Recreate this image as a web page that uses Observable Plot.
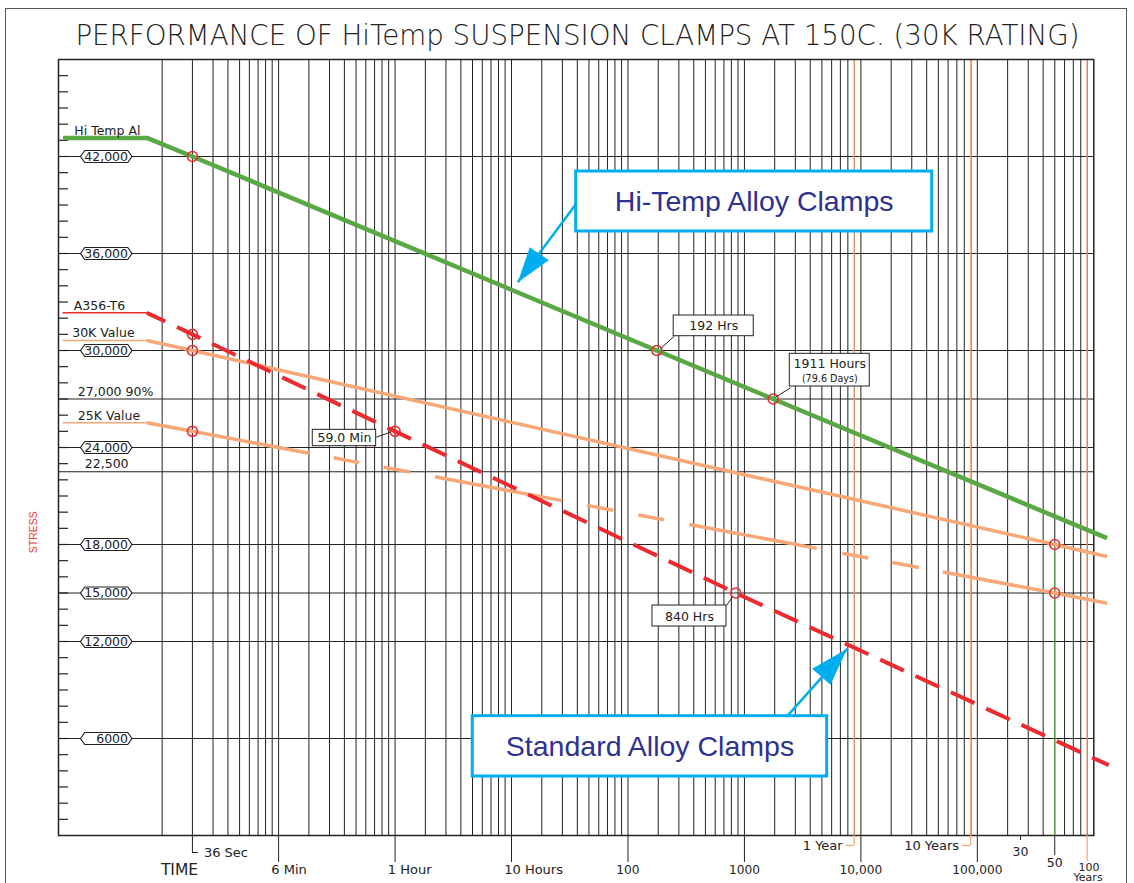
<!DOCTYPE html>
<html><head><meta charset="utf-8">
<script src="https://cdn.jsdelivr.net/npm/d3@7"></script>
<script src="https://cdn.jsdelivr.net/npm/@observablehq/plot@0.6"></script>
<style>
body{margin:0;background:#fff;}
#wrap{position:relative;width:1134px;height:883px;overflow:hidden;}
#border{position:absolute;left:5px;top:8px;width:1122px;height:900px;border:1.5px solid #555;pointer-events:none;box-sizing:border-box;}
svg text{white-space:pre;}
</style></head><body><div id="wrap"><div id="border"></div></div>
<script>
// ---------- data ----------
const titleText = "PERFORMANCE OF HiTemp SUSPENSION CLAMPS AT 150C. (30K RATING)";
const decades = [0.01, 0.1, 1, 10, 100, 1000, 10000, 100000];
const gridMultipliers = [1, 1.82, 2.735, 3.673, 4.624, 5.61, 6.668, 7.727, 8.81];
const majorStress = [42000, 36000, 30000, 27000, 24000, 22500, 18000, 15000, 12000, 6000];
const boxedStress = [42000, 36000, 30000, 24000, 18000, 15000, 12000, 6000];
const boxedLabels = ["42,000", "36,000", "30,000", "24,000", "18,000", "15,000", "12,000", "6000"];
const plainStress = [27000, 22500];
const plainLabels = ["27,000 90%", "22,500"];
const minorStress = d3.range(1000, 48000, 1000);
const minorTickHours = [0.00129, 0.00157];

const decadeTickHours = [0.1, 1, 10, 100, 1000, 10000, 100000];
const decadeTickLabels = ["6 Min", "1 Hour", "10 Hours", "100", "1000", "10,000", "100,000"];
const secTickHours = 0.0182;
const secLeaderHours = [0.0182, 0.0205];
const yearHours = [8760, 87600, 876000];
const yearLabels = ["1 Year", "10 Years"];
const yearLeaderStartHours = [7480, 74800];
const thirtyYearHours = 235000;
const fiftyYearHours = 462000;

const labelLineHours = [0.00141, 0.0074];
const seriesLabels = ["Hi Temp Al", "A356-T6", "30K Value", "25K Value"];
const seriesLabelStress = [43150, 32330, 30620, 25527];

const hiTempHours = [0.00141, 0.0074, 0.0182, 177, 1766, 1.3e6];
const hiTempStress = [43150, 43150, 42000, 30000, 27000, 18390];
const a356Hours = [0.0074, 0.0182, 1, 843, 1.345e6];
const a356Stress = [32330, 31000, 25000, 15000, 4350];
const k30Hours = [0.0074, 0.0182, 462000, 1.3e6];
const k30Stress = [30620, 30000, 18000, 17257];
const k25Hours = [0.0074, 0.0182, 462000, 1.3e6];
const k25Stress = [25527, 25000, 15000, 14370];

const circleHours = [0.0182, 0.0182, 0.0182, 0.0182, 1, 177, 1766, 843, 462000, 462000];
const circleStress = [42000, 31000, 30000, 25000, 25000, 30000, 27000, 15000, 18000, 15000];

const noteTexts = ["192 Hrs", "1911 Hours", "59.0 Min", "840 Hrs"];
const noteX1 = [247, 2452, 0.1965, 162.3];
const noteX2 = [1202, 11920, 0.688, 701.5];
const noteY1 = [30884, 27772, 24080, 12927];
const noteY2 = [32164, 29795, 25094, 14226];
const noteTextHours = [545.6, 5408, 0.3677, 337.3];
const noteTextStress = [31527, 29177, 24587, 13546];
const noteSubText = ["(79.6 Days)"];
const noteSubHours = [5408];
const noteSubStress = [28249];
const leaderFromHours = [190, 1849, 0.913, 789];
const leaderFromStress = [30104, 27111, 24946, 14752];
const leaderToHours = [250.7, 2486, 0.688, 701.5];
const leaderToStress = [30896, 27692, 24637, 14226];

const calloutTexts = ["Hi-Temp Alloy Clamps", "Standard Alloy Clamps"];
const calloutX1 = [35.92, 4.648];
const calloutX2 = [40960, 5135];
const calloutY1 = [37360, 3649];
const calloutY2 = [41071, 7379];
const calloutTextHours = [1213, 154.5];
const calloutTextStress = [39215, 5505];
const arrowFromHours = [35.92, 2329];
const arrowFromStress = [39073, 7379];
const arrowTipHours = [11.32, 7627];
const arrowTipStress = [34224, 11548];

// ---------- styles ----------
const ink = "#222", green = "#59a845", red = "#ec2b31", orange = "#f6a878",
      cyan = "#00aeef", navy = "#2e3192";
const font = "DejaVu Sans, sans-serif";

const pts = (hs, ss) => hs.map((h, i) => ({h, s: ss[i]}));
const gridHours = decades.flatMap(d => gridMultipliers.map(m => d * m));
const idx2 = [0, 1], idx4 = [0, 1, 2, 3];

const hexSymbol = {draw(c) {
  c.moveTo(-25.75, 0); c.lineTo(-21.5, -6); c.lineTo(21.5, -6);
  c.lineTo(25.75, 0); c.lineTo(21.5, 6); c.lineTo(-21.5, 6); c.closePath();
}};
const headDownLeft = {draw(c) { c.moveTo(0, 0); c.lineTo(12, -35); c.lineTo(31, -22); c.closePath(); }};
const headUpRight = {draw(c) { c.moveTo(0, 0); c.lineTo(-35, 20); c.lineTo(-16.7, 36); c.closePath(); }};

const seriesLabelDx = [15.8, 15.3, 13.7, 19.3];
const mid = {lineAnchor: "middle"};

const chart = Plot.plot({
  width: 1134, height: 883,
  marginTop: 59, marginBottom: 48, marginLeft: 58, marginRight: 40.7,
  x: {type: "log", domain: [Math.pow(10, -2.89), 1e6], axis: null},
  y: {domain: [0, 48000], axis: null},
  style: {fontFamily: font, background: "transparent", overflow: "visible"},
  marks: [
    // grid
    Plot.ruleX(gridHours, {stroke: ink, strokeWidth: 1}),
    Plot.ruleY(majorStress, {stroke: ink, strokeWidth: 1}),
    Plot.ruleY(minorStress, {x1: minorTickHours[0], x2: minorTickHours[1], stroke: ink, strokeWidth: 1.2}),
    Plot.ruleX(yearHours, {stroke: orange, strokeWidth: 1.3}),
    Plot.frame({stroke: ink, strokeWidth: 1.5}),
    // bottom ticks
    Plot.axisX(decadeTickHours, {tickSize: 27, tickFormat: () => "", stroke: ink, label: null}),
    Plot.axisX([secTickHours], {tickSize: 17, tickFormat: () => "", stroke: ink, label: null}),
    Plot.ruleY([0], {x1: secLeaderHours[0], x2: secLeaderHours[1], dy: 17, stroke: ink}),
    Plot.axisX(yearHours.slice(0, 2), {tickSize: 10, tickFormat: () => "", stroke: orange, strokeWidth: 1.3, label: null}),
    Plot.axisX([yearHours[2]], {tickSize: 26, tickFormat: () => "", stroke: orange, strokeWidth: 1.3, label: null}),
    Plot.ruleY(idx2, {x1: i => yearLeaderStartHours[i], x2: i => yearHours[i], y: () => 0, dy: 10, stroke: orange, strokeWidth: 1.3}),
    Plot.axisX([thirtyYearHours], {tickSize: 5, tickFormat: () => "", stroke: ink, label: null}),
    Plot.axisX([fiftyYearHours], {tickSize: 20, tickFormat: () => "", stroke: ink, label: null}),
    Plot.ruleX([fiftyYearHours], {y1: 18000, y2: 0, stroke: green, strokeWidth: 1}),
    // series
    Plot.line(pts(hiTempHours, hiTempStress), {x: "h", y: "s", stroke: green, strokeWidth: 4.5, strokeLinecap: "butt"}),
    Plot.line(pts(labelLineHours, [seriesLabelStress[1], seriesLabelStress[1]]), {x: "h", y: "s", stroke: red, strokeWidth: 1.5}),
    Plot.line(pts(labelLineHours, [seriesLabelStress[2], seriesLabelStress[2]]), {x: "h", y: "s", stroke: orange, strokeWidth: 1.5}),
    Plot.line(pts(labelLineHours, [seriesLabelStress[3], seriesLabelStress[3]]), {x: "h", y: "s", stroke: orange, strokeWidth: 1.5}),
    Plot.line(pts(k30Hours, k30Stress), {x: "h", y: "s", stroke: orange, strokeWidth: 3.5, strokeLinecap: "butt"}),
    Plot.line(pts(k25Hours, k25Stress), {x: "h", y: "s", stroke: orange, strokeWidth: 3.5, strokeLinecap: "butt",
      strokeDasharray: "165,25,26,25,26.5,25.5,129.5,25.5,26.5,25.5,26,26,129.5,26,26.5,24.5,27,24.5,400"}),
    Plot.line(pts(a356Hours, a356Stress), {x: "h", y: "s", stroke: red, strokeWidth: 4, strokeLinecap: "butt",
      strokeDasharray: "26,12.9", strokeDashoffset: 5.7}),
    Plot.dot(pts(circleHours, circleStress), {x: "h", y: "s", r: 5, stroke: red, strokeWidth: 1.6, fill: "none"}),
    // y labels
    Plot.dot(boxedStress, {y: d => d, frameAnchor: "left", dx: 47.75, symbol: hexSymbol, fill: "white", stroke: ink, strokeWidth: 1.2}),
    Plot.text(boxedStress, {y: d => d, text: (d, i) => boxedLabels[i], frameAnchor: "left", dx: 69.5, textAnchor: "end", fontSize: 12.5, fill: ink}),
    Plot.text([plainStress[0]], {y: d => d, text: () => plainLabels[0], frameAnchor: "left", dx: 19.3, dy: -7.5, textAnchor: "start", fontSize: 12.5, fill: ink}),
    Plot.text([plainStress[1]], {y: d => d, text: () => plainLabels[1], frameAnchor: "left", dx: 26.3, dy: -8, textAnchor: "start", fontSize: 12.5, fill: ink}),
    ...seriesLabels.map((t, i) => Plot.text([t], {y: () => seriesLabelStress[i], text: d => d, frameAnchor: "left", dx: seriesLabelDx[i], dy: -7.3, textAnchor: "start", fontSize: 12.5, fill: ink})),
    Plot.text(["STRESS"], {y: () => 18760, text: d => d, frameAnchor: "left", dx: -24.7, rotate: -90, textAnchor: "middle", ...mid, fontSize: 10.5, fill: "#ec3a3f", fontFamily: "Liberation Sans, Arial, sans-serif"}),
    // x labels
    Plot.text(decadeTickHours.slice(0, 3), {x: d => d, text: (d, i) => decadeTickLabels[i], frameAnchor: "bottom", ...mid, dy: 34.3, dx: -7.3, textAnchor: "start", fontSize: 13, fill: ink}),
    Plot.text(decadeTickHours.slice(3), {x: d => d, text: (d, i) => decadeTickLabels[i + 3], frameAnchor: "bottom", ...mid, dy: 34.8, textAnchor: "middle", fontSize: 12.2, fill: ink}),
    Plot.text(["36 Sec"], {x: () => secTickHours, text: d => d, frameAnchor: "bottom", ...mid, dx: 11.5, dy: 17, textAnchor: "start", fontSize: 13, fill: ink}),
    Plot.text(["TIME"], {text: d => d, frameAnchor: "bottom-left", ...mid, dx: 121, dy: 34.3, textAnchor: "middle", fontSize: 15.5, fill: ink}),
    Plot.text(yearLabels, {x: (d, i) => yearHours[i], text: d => d, frameAnchor: "bottom", ...mid, dx: -11.5, dy: 10, textAnchor: "end", fontSize: 13, fill: ink}),
    Plot.text(["30"], {x: () => thirtyYearHours, text: d => d, frameAnchor: "bottom", ...mid, dy: 16.7, fontSize: 12.5, fill: ink}),
    Plot.text(["50"], {x: () => fiftyYearHours, text: d => d, frameAnchor: "bottom", ...mid, dy: 27, fontSize: 12.5, fill: ink}),
    Plot.text(["100"], {x: () => yearHours[2], text: d => d, frameAnchor: "bottom", ...mid, dx: 2, dy: 31.5, fontSize: 11, fill: ink}),
    Plot.text(["Years"], {x: () => yearHours[2], text: d => d, frameAnchor: "bottom", ...mid, dx: 1, dy: 42.3, fontSize: 11, fill: ink}),
    // small notes
    Plot.link(idx4, {x1: i => leaderFromHours[i], y1: i => leaderFromStress[i], x2: i => leaderToHours[i], y2: i => leaderToStress[i], stroke: ink, strokeWidth: 1}),
    Plot.rect(idx4, {x1: i => noteX1[i], x2: i => noteX2[i], y1: i => noteY1[i], y2: i => noteY2[i], fill: "white", stroke: ink, strokeWidth: 1}),
    Plot.text(idx4, {x: i => noteTextHours[i], y: i => noteTextStress[i], text: i => noteTexts[i], fontSize: 12.5, fill: ink}),
    Plot.text([0], {x: i => noteSubHours[i], y: i => noteSubStress[i], text: i => noteSubText[i], fontSize: 9.6, fill: ink}),
    // callouts
    Plot.link(idx2, {x1: i => arrowFromHours[i], y1: i => arrowFromStress[i], x2: i => arrowTipHours[i], y2: i => arrowTipStress[i], stroke: cyan, strokeWidth: 2.5}),
    Plot.dot([0], {x: i => arrowTipHours[i], y: i => arrowTipStress[i], symbol: headDownLeft, fill: cyan, stroke: "none"}),
    Plot.dot([1], {x: i => arrowTipHours[i], y: i => arrowTipStress[i], symbol: headUpRight, fill: cyan, stroke: "none"}),
    Plot.rect(idx2, {x1: i => calloutX1[i], x2: i => calloutX2[i], y1: i => calloutY1[i], y2: i => calloutY2[i], fill: "white", stroke: cyan, strokeWidth: 3}),
    Plot.text(idx2, {x: i => calloutTextHours[i], y: i => calloutTextStress[i], text: i => calloutTexts[i], fontSize: 28.5, fill: navy, fontFamily: "Liberation Sans, Arial, sans-serif"}),
    // title
    Plot.text([titleText], {text: d => d, frameAnchor: "top", ...mid, dx: 1.3, dy: -23, fontSize: 27.7, fontWeight: 200, fill: ink})
  ]
});
document.getElementById("wrap").prepend(chart);
</script></body></html>
